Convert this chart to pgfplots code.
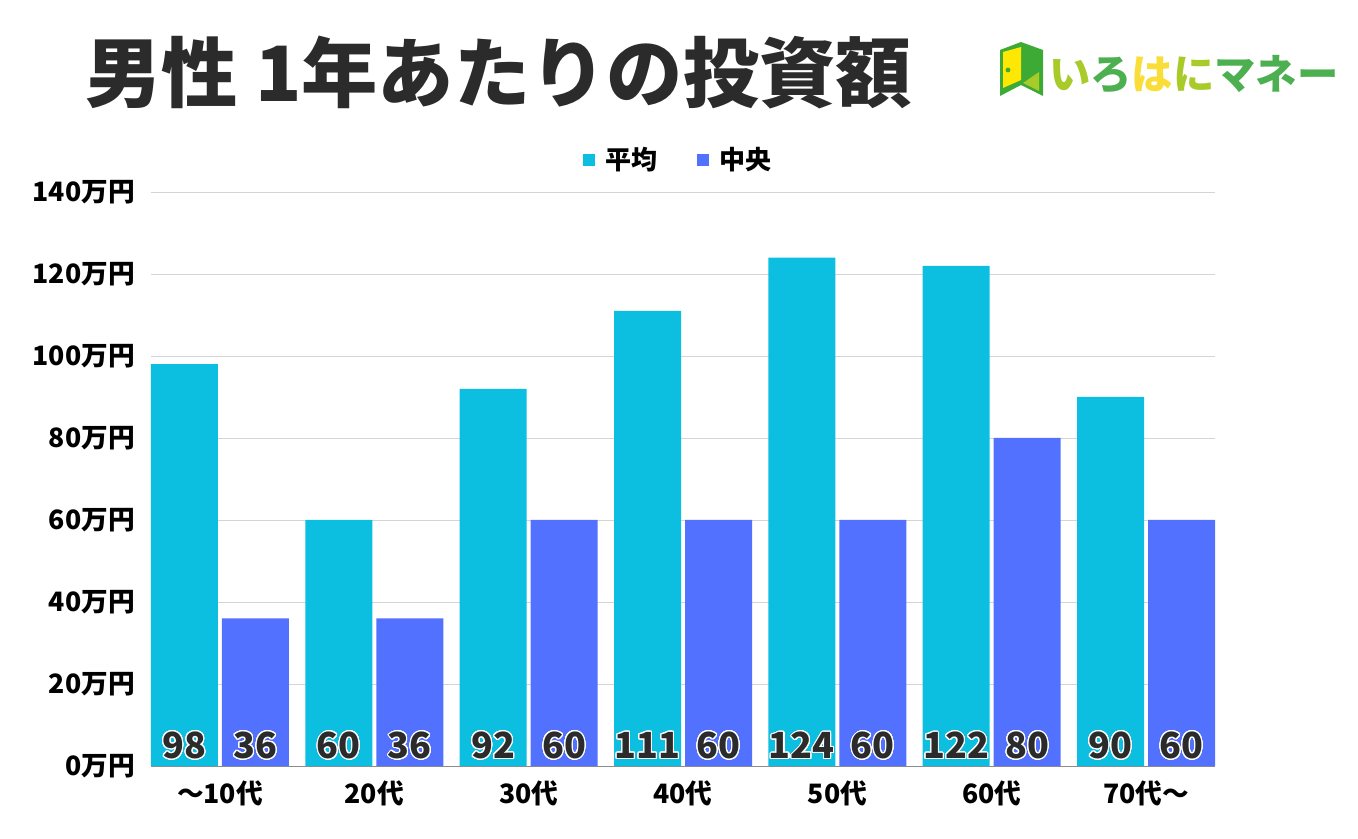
\documentclass[border=0pt]{standalone}
\usepackage{fontspec}
\setmainfont{Noto Sans CJK JP}
\usepackage{pgfplots}
\pgfplotsset{compat=1.18}
\usepackage{contour}
\contournumber{32}
\contourlength{0.8pt}
\definecolor{avgc}{HTML}{0CBFE0}
\definecolor{medc}{HTML}{5271FF}
\definecolor{inkc}{HTML}{2B2B2B}
\definecolor{logog}{HTML}{4CAF50}
\definecolor{logol}{HTML}{A8CB2A}
\definecolor{logoy}{HTML}{F9DE3A}
\definecolor{logod}{HTML}{3DAA35}
\begin{document}
\begin{tikzpicture}
  \useasboundingbox (0pt,0pt) rectangle (1018.5pt,628.5pt);
  \begin{axis}[
    at={(113.25pt,54pt)}, anchor=south west,
    scale only axis, width=798pt, height=430.5pt,
    xmin=-0.447, xmax=6.447, ymin=0, ymax=140,
    ybar=0pt, bar width=50.25pt,
    axis x line*=bottom, axis y line*=left,
    x axis line style={draw=black!45, line width=0.6pt, -},
    y axis line style={draw=none},
    ytick={0,20,...,140},
    yticklabels={0万円,20万円,40万円,60万円,80万円,100万円,120万円,140万円},
    y tick label style={font=\fontsize{20}{22}\selectfont\bfseries, xshift=-8.7pt},
    xtick=data,
    xticklabels={〜10代,20代,30代,40代,50代,60代,70代〜},
    x tick label style={font=\fontsize{20}{22}\selectfont\bfseries, yshift=-7.5pt},
    major tick length=0pt,
    ymajorgrids,
    grid style={draw=black!17, line width=0.7pt},
    clip=false,
    legend style={at={(0.5,1.0)}, anchor=south, xshift=-3.3pt, yshift=11pt, draw=none, fill=none,
      legend columns=2, font=\fontsize{19.5}{22}\selectfont\bfseries,
      /tikz/every odd column/.style={column sep=5.5pt},
      /tikz/every even column/.style={column sep=28pt}},
    legend image code/.code={\fill[#1] (0pt,-4.5pt) rectangle (9pt,4.5pt);},
  ]
    \addplot[fill=avgc, draw=none, bar shift=-26.625pt] coordinates
      {(0,98) (1,60) (2,92) (3,111) (4,124) (5,122) (6,90)};
    \addlegendentry{平均}
    \addplot[fill=medc, draw=none, bar shift=26.625pt] coordinates
      {(0,36) (1,36) (2,60) (3,60) (4,60) (5,80) (6,60)};
    \addlegendentry{中央}
    % value labels sit at the foot of the bars
    \addplot[draw=none, fill=none, forget plot, bar shift=-26.625pt, point meta=explicit symbolic,
      nodes near coords, every node near coord/.append style={anchor=center, yshift=15pt, text=inkc,
      font=\fontsize{27}{30}\selectfont\bfseries},
      nodes near coords={\contour{white}{\pgfplotspointmeta}}] coordinates
      {(0,0)[98] (1,0)[60] (2,0)[92] (3,0)[111] (4,0)[124] (5,0)[122] (6,0)[90]};
    \addplot[draw=none, fill=none, forget plot, bar shift=26.625pt, point meta=explicit symbolic,
      nodes near coords, every node near coord/.append style={anchor=center, yshift=15pt, text=inkc,
      font=\fontsize{27}{30}\selectfont\bfseries},
      nodes near coords={\contour{white}{\pgfplotspointmeta}}] coordinates
      {(0,0)[36] (1,0)[36] (2,0)[60] (3,0)[60] (4,0)[60] (5,0)[80] (6,0)[60]};
  \end{axis}
  \begin{scope}[x=0.75pt, y=-0.75pt, yshift=628.5pt]
    \node[anchor=west, inner sep=0pt, text=inkc, font=\fontsize{57.2}{62}\selectfont\bfseries] at (85,73) {男性 1年あたりの投資額};
    % logo
    \fill[logod] (1000,50) -- (1021,42) -- (1043,50) -- (1043,96) -- (1021,85) -- (1000,96) -- cycle;
    \fill[yellow!90!orange] (1003,52) -- (1021,47) -- (1021,80) -- (1003,88) -- cycle;
    \fill[logol] (1023,83) -- (1039,72) -- (1039,91) -- cycle;
    \fill[logod] (1008,70) circle (2.4);
    \node[anchor=west, inner sep=0pt, font=\fontsize{31}{34}\selectfont\bfseries] at (1049,74)
      {\textcolor{logol}{い}\textcolor{logog}{ろ}\textcolor{logoy}{は}\textcolor{logol}{に}\textcolor{logog}{マネー}};
  \end{scope}
\end{tikzpicture}
\end{document}
